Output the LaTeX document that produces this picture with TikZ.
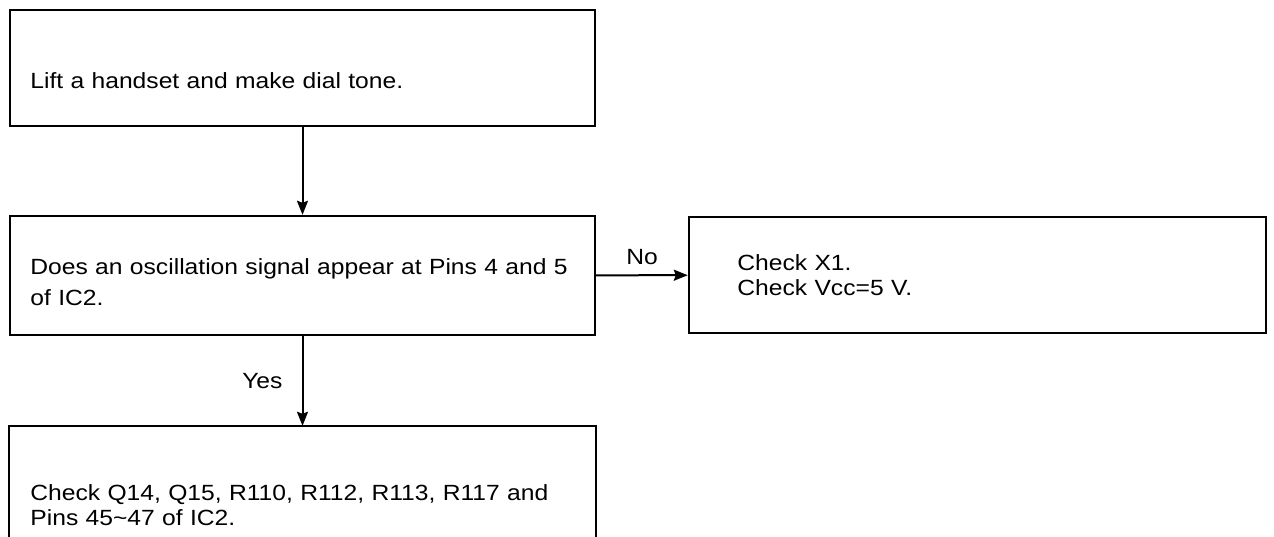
\documentclass[tikz,border=0pt]{standalone}
\usepackage{fontspec}
\setmainfont{Liberation Sans}[FakeStretch=1.12]
\usetikzlibrary{arrows.meta}

\begin{document}
\begin{tikzpicture}[x=0.5bp, y=-0.5bp,
  box/.style={draw, line width=1.2bp, minimum width=292.5bp, inner sep=0pt},
  txt/.style={anchor=base west, inner sep=0pt, text width=285bp, align=left,
    font=\fontsize{11bp}{12.5bp}\selectfont},
  lbl/.style={inner sep=0pt, font=\fontsize{11bp}{12.5bp}\selectfont},
  arr/.style={line width=1bp, -{Stealth[length=7bp, width=5.5bp, inset=1bp]}}]
\useasboundingbox (0, 0) rectangle (1274, 537);

\node (lift) [box, minimum height=58bp] at (302.5, 68) {};
\node (osc) [box, minimum height=59.5bp] at (302.5, 275.5) {};
\node (chk) [box, draw=none, minimum height=55bp] at (302.5, 482) {};
\node (xone) [box, minimum width=288.5bp, minimum height=58bp] at (977.5, 275) {};

\draw [line width=1.2bp] (chk.south west) |- (chk.north east) -- (chk.south east);

\node (lift-t) [txt] at (30, 89) {Lift a handset and make dial tone.};
\node (osc-t) [txt, font=\fontsize{11bp}{15.5bp}\selectfont] at (30, 275)
  {Does an oscillation signal appear at Pins 4 and 5\\of IC2.};
\node (xone-t) [txt] at (737, 271) {Check X1.\\Check Vcc=5 V.};
\node (chk-t) [txt] at (30, 500)
  {Check Q14, Q15, R110, R112, R113, R117 and\\Pins 45\textasciitilde47 of IC2.};

\draw [arr] (lift) -- (osc);
\draw [arr] (osc) -- node (yes) [lbl, left=9.5bp] {Yes} (chk);
\draw [arr] (osc) -- node (no) [lbl, above=5bp] {No} (xone);
\end{tikzpicture}
\end{document}
